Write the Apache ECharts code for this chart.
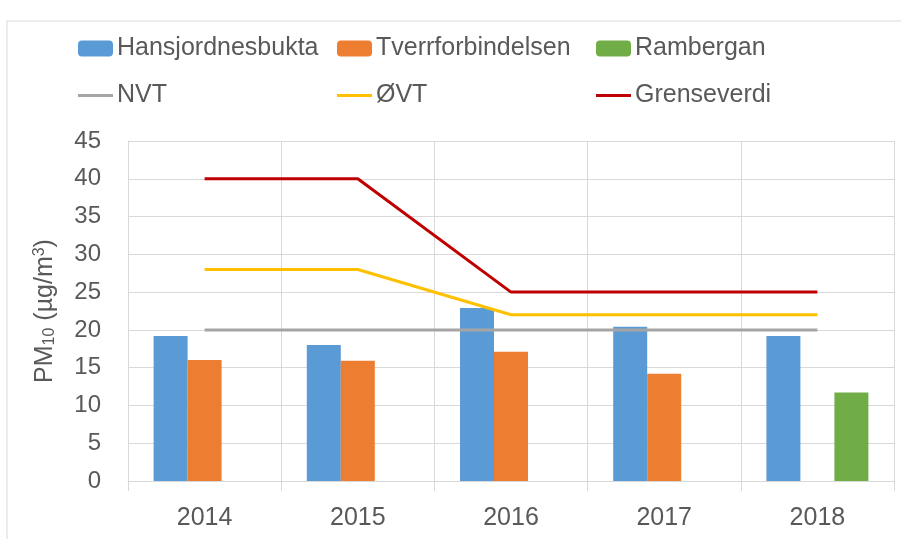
<!DOCTYPE html>
<html>
<head>
<meta charset="utf-8">
<script src="https://cdn.jsdelivr.net/npm/echarts@6/dist/echarts.min.js"></script>
<style>
  html, body { margin: 0; padding: 0; background: #fff; }
  #chart { width: 901px; height: 539px; }
</style>
</head>
<body>
<div id="chart"></div>
<script>
  // år
  var years = ['2014', '2015', '2016', '2017', '2018'];
  // målestasjoner
  var hansjordnesbukta = [19.2, 18.0, 22.9, 20.4, 19.2];
  var tverrforbindelsen = [16.0, 15.9, 17.1, 14.2, null];
  var rambergan = [null, null, null, null, 11.7];
  // grenser
  var nvt = [20, 20, 20, 20, 20];
  var ovt = [28, 28, 22, 22, 22];
  var grenseverdi = [40, 40, 25, 25, 25];

  var font = 'Liberation Sans, Arial, sans-serif';
  var textColor = '#595959';
  var chart = echarts.init(document.getElementById('chart'));

  // en legende per element, for å plassere kolonnene som i originalen
  function legendItem(name, left, top, isLine) {
    return {
      left: left, top: top,
      itemWidth: 35, itemHeight: isLine ? 3 : 16,
      data: [isLine ? { name: name, icon: 'rect' } : name],
      textStyle: { fontSize: 25, color: textColor, fontFamily: font, padding: [0, 0, 0, -1] }
    };
  }

  var option = {
    animation: false,
    backgroundColor: '#fff',
    textStyle: { fontFamily: font },
    graphic: [{
      type: 'rect',
      shape: { x: 7, y: 21, width: 1000, height: 1000 },
      style: { fill: 'none', stroke: '#d9d9d9', lineWidth: 1 },
      silent: true
    }],
    legend: [
      legendItem('Hansjordnesbukta', 73, 31, false),
      legendItem('Tverrforbindelsen', 332, 31, false),
      legendItem('Rambergan', 591, 31, false),
      legendItem('NVT', 73, 78, true),
      legendItem('ØVT', 332, 78, true),
      legendItem('Grenseverdi', 591, 78, true)
    ],
    grid: { left: 128, right: 7, top: 141, bottom: 58 },
    xAxis: {
      type: 'category',
      data: years,
      axisLine: { lineStyle: { color: '#d9d9d9' } },
      axisTick: { show: true, length: 10, lineStyle: { color: '#d9d9d9' } },
      axisLabel: { fontSize: 25, color: textColor, margin: 25 },
      splitLine: { show: true, lineStyle: { color: '#d9d9d9' } }
    },
    yAxis: {
      type: 'value',
      min: 0, max: 45, interval: 5,
      name: '{a|PM}{sub|10}{a| (µg/m}{sup|3}{a|)}',
      nameLocation: 'middle',
      nameRotate: 90,
      nameGap: 70,
      nameTextStyle: {
        rich: {
          a: { fontSize: 25, color: textColor, fontFamily: font },
          sub: { fontSize: 16, color: textColor, fontFamily: font, padding: [10, 0, 0, 0] },
          sup: { fontSize: 16, color: textColor, fontFamily: font, padding: [0, 0, 10, 0] }
        }
      },
      axisLine: { show: true, lineStyle: { color: '#d9d9d9' } },
      axisTick: { show: false },
      axisLabel: { fontSize: 24, color: textColor, margin: 27 },
      splitLine: { lineStyle: { color: '#d9d9d9' } }
    },
    series: [
      { name: 'Hansjordnesbukta', type: 'bar', data: hansjordnesbukta, barWidth: 34, barGap: '0%', itemStyle: { color: '#5B9BD5' } },
      { name: 'Tverrforbindelsen', type: 'bar', data: tverrforbindelsen, barWidth: 34, barGap: '0%', itemStyle: { color: '#ED7D31' } },
      { name: 'Rambergan', type: 'bar', data: rambergan, barWidth: 34, barGap: '0%', itemStyle: { color: '#70AD47' } },
      { name: 'NVT', type: 'line', data: nvt, symbol: 'none', lineStyle: { color: '#A5A5A5', width: 3 }, itemStyle: { color: '#A5A5A5' } },
      { name: 'ØVT', type: 'line', data: ovt, symbol: 'none', lineStyle: { color: '#FFC000', width: 3 }, itemStyle: { color: '#FFC000' } },
      { name: 'Grenseverdi', type: 'line', data: grenseverdi, symbol: 'none', lineStyle: { color: '#C00000', width: 3 }, itemStyle: { color: '#C00000' } }
    ]
  };
  chart.setOption(option);
</script>
</body>
</html>
